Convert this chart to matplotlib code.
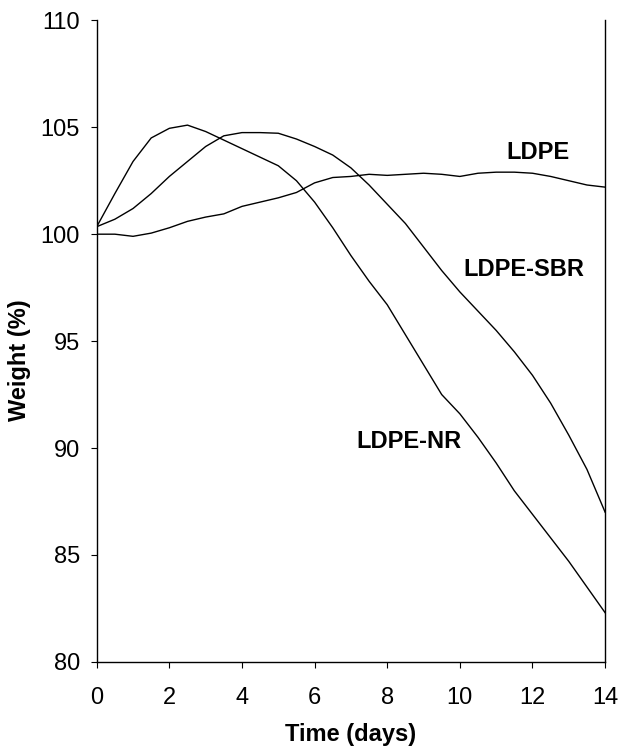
import matplotlib
matplotlib.use("Agg")
import matplotlib.pyplot as plt

plt.rcParams['font.family'] = ['Liberation Sans', 'DejaVu Sans']

days = [0, 0.5, 1, 1.5, 2, 2.5, 3, 3.5, 4, 4.5, 5, 5.5, 6, 6.5, 7,
        7.5, 8, 8.5, 9, 9.5, 10, 10.5, 11, 11.5, 12, 12.5, 13, 13.5, 14]

ldpe = [100.0, 100.0, 99.9, 100.05, 100.3, 100.6, 100.8, 100.95, 101.3, 101.5,
        101.7, 101.95, 102.4, 102.65, 102.7, 102.8, 102.75, 102.8, 102.85, 102.8,
        102.7, 102.85, 102.9, 102.9, 102.85, 102.7, 102.5, 102.3, 102.2]

ldpe_sbr = [100.35, 100.7, 101.2, 101.9, 102.7, 103.4, 104.1, 104.6, 104.75, 104.75,
            104.72, 104.45, 104.1, 103.7, 103.1, 102.3, 101.4, 100.5, 99.4, 98.3,
            97.3, 96.4, 95.5, 94.5, 93.4, 92.1, 90.6, 89.0, 87.0]

ldpe_nr = [100.35, 101.9, 103.4, 104.5, 104.95, 105.1, 104.8, 104.4, 104.0, 103.6,
           103.2, 102.5, 101.5, 100.3, 99.0, 97.8, 96.7, 95.3, 93.9, 92.5,
           91.6, 90.5, 89.3, 88.0, 86.9, 85.8, 84.7, 83.5, 82.3]

fig = plt.figure(figsize=(6.2, 7.53), dpi=100)
ax = fig.add_axes([0.156, 0.121, 0.82, 0.852])

for y in (ldpe, ldpe_sbr, ldpe_nr):
    ax.plot(days, y, color='black', lw=1.0)

ax.set_xlim(0, 14)
ax.set_ylim(80, 110)
ax.set_xticks(range(0, 15, 2))
ax.set_yticks(range(80, 111, 5))
ax.tick_params(labelsize=17, direction='out', length=4, width=0.8)
ax.tick_params(axis='x', pad=14)
ax.tick_params(axis='y', pad=8)
ax.spines['top'].set_visible(False)
for s in ('left', 'right', 'bottom'):
    ax.spines[s].set_linewidth(1.0)

ax.set_xlabel('Time (days)', fontsize=17, fontweight='bold', labelpad=10)
ax.set_ylabel('Weight (%)', fontsize=17, fontweight='bold', labelpad=2)
ax.yaxis.set_label_coords(-0.13, 0.47)

ax.text(12.15, 103.8, 'LDPE', fontsize=17, fontweight='bold', ha='center', va='center')
ax.text(11.75, 98.35, 'LDPE-SBR', fontsize=17, fontweight='bold', ha='center', va='center')
ax.text(8.6, 90.3, 'LDPE-NR', fontsize=17, fontweight='bold', ha='center', va='center')

fig.savefig('out.png', dpi=100)
